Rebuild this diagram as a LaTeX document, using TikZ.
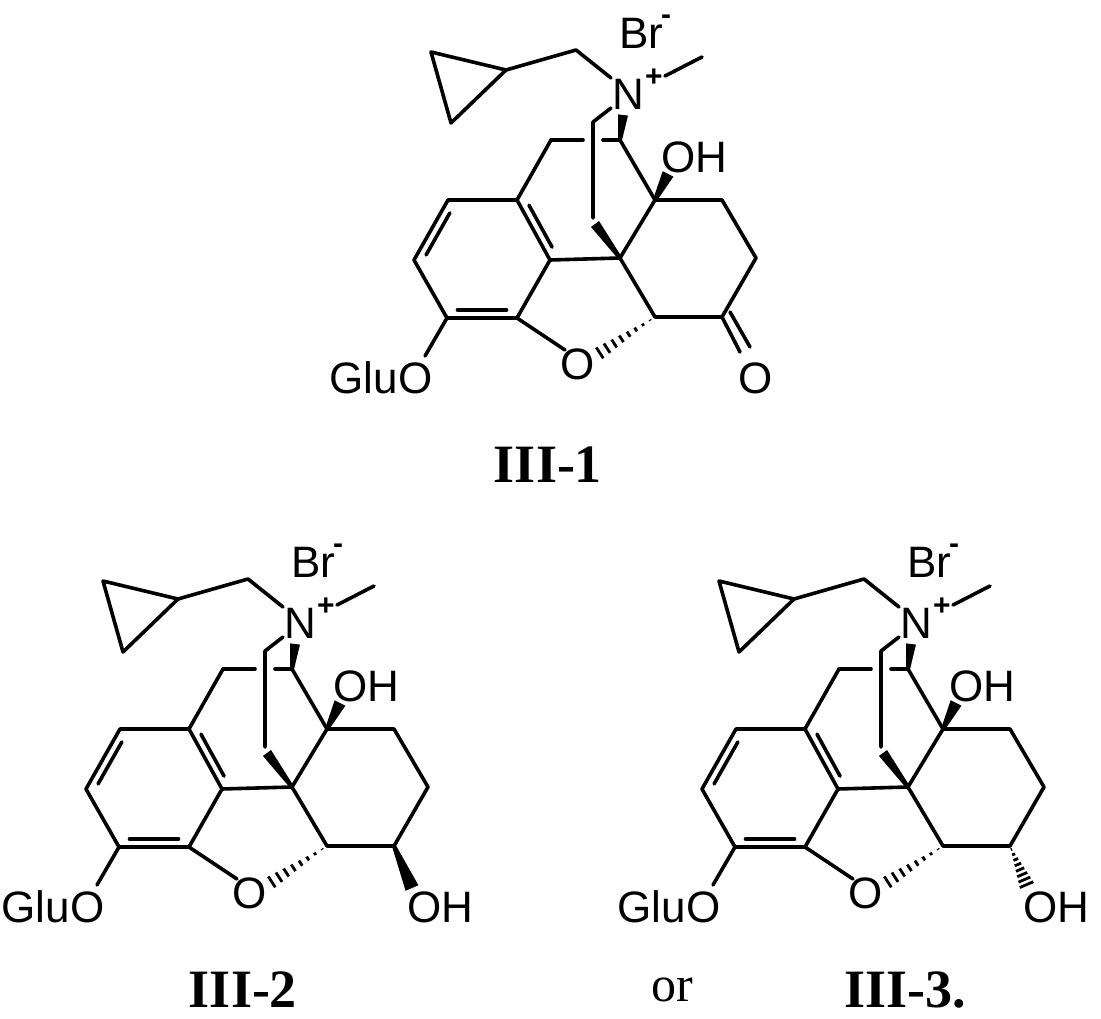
\documentclass[tikz,border=0pt]{standalone}
\usepackage{fontspec}
\setmainfont{Liberation Serif}
\setsansfont{Liberation Sans}
\usetikzlibrary{calc}
\tikzset{
  bond/.style={line width=3.6pt,line cap=round,line join=round},
  atom/.style={font=\sffamily\fontsize{44}{44}\selectfont,inner sep=0pt},
  chg/.style={font=\sffamily\bfseries\fontsize{30}{30}\selectfont,inner sep=0pt},
  cpd/.style={font=\bfseries\fontsize{54}{54}\selectfont,inner sep=0pt},
  plain/.style={font=\fontsize{50}{50}\selectfont,inner sep=0pt}
}
\newcommand\wdg[3]{\fill ($(#1)!2pt!90:(#2)$) -- ($(#1)!2pt!-90:(#2)$) -- ($(#2)!#3!90:(#1)$) -- ($(#2)!#3!-90:(#1)$) -- cycle;}
\newcommand\hsh[3]{\foreach \t in {0.08,0.2,...,0.99}{\draw[line width=2.8pt] ($(#1)!\t!(#2)!\t*#3!90:(#2)$) -- ($(#1)!\t!(#2)!\t*#3!-90:(#2)$);}}
\newcommand\mol[3]{%
\begin{scope}[shift={(#2,#3)}]
\coordinate (#1cp1) at (431,52); \coordinate (#1cp2) at (451,123); \coordinate (#1cp3) at (506,70);
\coordinate (#1ch2) at (576,50); \coordinate (#1nin) at (611,78);
\node[atom] (#1N) at (628,94) {N};
\node[chg] (#1plus) at (654,78) {+};
\node[atom] (#1Br) at (641,33) {Br};
\node[chg] (#1minus) at (666,20) {-};
\coordinate (#1me1) at (665,76); \coordinate (#1me2) at (702,57);
\coordinate (#1nb) at (611,108); \coordinate (#1b1) at (593,122); \coordinate (#1b2) at (593,218); \coordinate (#1b3) at (595,224);
\coordinate (#1c10) at (551,140); \coordinate (#1c9) at (620,140); \coordinate (#1nw) at (623,115);
\coordinate (#1a1) at (517,200); \coordinate (#1a2) at (448,200); \coordinate (#1a3) at (414,260);
\coordinate (#1a4) at (447,318); \coordinate (#1a5) at (517,318); \coordinate (#1a6) at (550,260);
\coordinate (#1c13) at (620,258); \coordinate (#1c14) at (655,200); \coordinate (#1c15) at (722,200);
\coordinate (#1c16) at (756,258); \coordinate (#1c6) at (722,317); \coordinate (#1c5) at (655,317);
\node[atom] (#1O) at (578,364) {O};
\coordinate (#1ow) at (565,350); \coordinate (#1oh) at (595,356);
\node[atom] (#1OH) at (694,157) {OH};
\coordinate (#1ohw) at (668,174);
\node[atom] (#1Glu) at (381,378) {GluO};
\coordinate (#1gl) at (425,356);
\draw[bond] (#1cp1) -- (#1cp2) -- (#1cp3) -- cycle;
\draw[bond] (#1cp3) -- (#1ch2) -- (#1nin);
\draw[bond] (#1me1) -- (#1me2);
\draw[bond] (#1nb) -- (#1b1) -- (#1b2);
\wdg{#1c13}{#1b3}{5pt}
\draw[bond] (#1c10) -- (583,140); \draw[bond] (603,140) -- (#1c9);
\wdg{#1c9}{#1nw}{5pt}
\draw[bond] (#1a1) -- (#1a2) -- (#1a3) -- (#1a4) -- (#1a5) -- (#1a6) -- cycle;
\draw[bond] ($(#1a2)!0.15!(#1a3)!8pt!90:(#1a3)$) -- ($(#1a3)!0.15!(#1a2)!8pt!-90:(#1a2)$);
\draw[bond] ($(#1a1)!0.15!(#1a6)!8pt!90:(#1a6)$) -- ($(#1a6)!0.15!(#1a1)!8pt!-90:(#1a1)$);
\draw[bond] ($(#1a4)!0.15!(#1a5)!8pt!90:(#1a5)$) -- ($(#1a5)!0.15!(#1a4)!8pt!-90:(#1a4)$);
\draw[bond] (#1a1) -- (#1c10);
\draw[bond] (#1a6) -- (#1c13) -- (#1c14) -- (#1c9);
\draw[bond] (#1c14) -- (#1c15) -- (#1c16) -- (#1c6) -- (#1c5) -- (#1c13);
\draw[bond] (#1a5) -- (#1ow);
\hsh{#1c5}{#1oh}{7pt}
\wdg{#1c14}{#1ohw}{6pt}
\draw[bond] (#1a4) -- (#1gl);
\end{scope}}
\begin{document}
\begin{tikzpicture}[x=1pt,y=-1pt]
\useasboundingbox[fill=white] (0,0) rectangle (1101,1019);
% III-1
\mol{A}{0}{0}
\node[atom] (AketO) at (756,378) {O};
\draw[bond] (Ac6) -- (740,352);
\draw[bond] (730,312) -- (750,347);
\node[cpd] (L1) at (548,465) {III-1};
% III-2
\mol{B}{-328}{529}
\coordinate (Bohw) at (412,888);
\wdg{Bc6}{Bohw}{7pt}
\node[atom] (BOH2) at (440,907) {OH};
\node[cpd] (L2) at (243,990) {III-2};
% III-3
\mol{C}{288}{529}
\coordinate (Cohh) at (1028,888);
\hsh{Cc6}{Cohh}{8pt}
\node[atom] (COH2) at (1056,907) {OH};
\node[plain] (Lor) at (672,990) {or};
\node[cpd] (L3) at (905,990) {III-3.};
\end{tikzpicture}
\end{document}
